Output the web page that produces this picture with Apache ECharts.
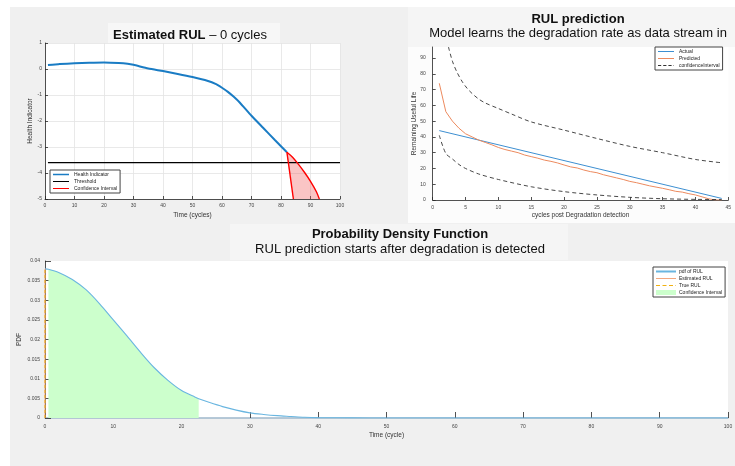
<!DOCTYPE html>
<html>
<head>
<meta charset="utf-8">
<script src="https://cdn.jsdelivr.net/npm/echarts@6/dist/echarts.min.js"></script>
<style>
  body { margin: 0; background: #fff; }
  #page { position: relative; width: 735px; height: 466px; overflow: hidden; background: #fff; }
  .bg, .chart { position: absolute; }
</style>
</head>
<body>
<div id="page">
  <div class="bg" style="left:10px;top:7px;width:725px;height:459px;background:#f0f0f0"></div>
  <div class="bg" style="left:108px;top:23px;width:172px;height:22px;background:#f7f7f7"></div>
  <div class="bg" style="left:408px;top:7px;width:327px;height:40px;background:#f5f5f5"></div>
  <div class="bg" style="left:408px;top:47px;width:327px;height:176px;background:#fcfcfc"></div>
  <div class="bg" style="left:230px;top:224px;width:338px;height:36px;background:#f5f5f5"></div>
  <div id="c1" class="chart" style="left:10px;top:7px;width:360px;height:218px"></div>
  <div id="c2" class="chart" style="left:370px;top:0px;width:365px;height:225px"></div>
  <div id="c3" class="chart" style="left:10px;top:225px;width:725px;height:241px"></div>
</div>

<script>
var FONT = 'Liberation Sans, Arial, sans-serif';

// --- Estimated RUL (health indicator) ---
var hiTime  = [1, 5, 10, 15, 20, 25, 28, 30, 35, 40, 45, 50, 55, 58, 60, 62, 64, 66, 70, 74, 78, 82];
var hiValue = [0.15, 0.19, 0.22, 0.24, 0.25, 0.23, 0.2, 0.16, 0.02, -0.08, -0.19, -0.31, -0.45, -0.58, -0.72, -0.88, -1.07, -1.29, -1.8, -2.27, -2.74, -3.2];
var thresholdX = [1, 100];
var threshold = -3.6;
var ciLowX = [82, 84.2];
var ciLowY = [-3.2, -5];
var ciUpX = [82, 84, 86, 88, 90, 92, 93];
var ciUpY = [-3.2, -3.4, -3.68, -3.98, -4.32, -4.72, -5];

// --- RUL prediction ---
var actualX = [1, 44];
var actualY = [44, 1];
var predX = [1, 2, 3, 4, 5, 6, 7, 8, 9, 10, 11, 12, 13, 14, 15, 16, 17, 18, 19, 20, 21, 22,
             23, 24, 25, 26, 27, 28, 29, 30, 31, 32, 33, 34, 35, 36, 37, 38, 39, 40, 41, 42, 43, 44];
var predY = [74, 56, 50, 45.5, 42, 40, 38, 36.5, 35, 33.3, 32, 31, 30, 28.5, 27.5, 26.5, 25.3, 24.5, 23.5, 22.2, 21, 20.3,
             19, 18, 17.3, 16, 15, 14, 13, 11.8, 11, 10, 9, 8.2, 7.4, 6.5, 5.5, 5, 4, 3.2, 2, 0.8, 0, 0];
var upX = [2.4, 3, 3.7, 4.5, 5.2, 6, 7, 8, 10, 12, 15, 20, 25, 30, 35, 40, 44];
var upY = [97, 88, 81, 75, 71, 67.5, 64, 61.5, 58, 54.5, 49.5, 44.3, 39, 34, 30, 25.7, 23.6];
var lowX = [1, 2, 3, 4, 5, 7, 10, 15, 20, 25, 30, 35, 40, 44];
var lowY = [41, 29.5, 26, 22.5, 20, 16.5, 13, 8.4, 5.3, 3.2, 1.7, 0.8, 0.4, 0.3];

// --- Probability density function ---
var pdfX = [0, 0.5, 2, 4, 6, 8, 10, 12, 14, 16, 18, 20, 22, 22.5, 24, 26, 28, 30, 32, 34, 36, 38, 40, 45, 50, 60, 70, 80, 90, 100];
var pdfY = [0.038, 0.0379, 0.0371, 0.0353, 0.0327, 0.0291, 0.025, 0.0209, 0.0167, 0.0128, 0.0096, 0.007, 0.0053, 0.0049,
            0.004, 0.0029, 0.002, 0.0013, 0.0009, 0.0006, 0.0004, 0.0002, 0.0001, 0.00003, 0, 0, 0, 0, 0, 0];
var estRUL = 0;
var trueRUL = 0;
var pdfTop = 0.038;
var ciRange = [0.5, 22.5];

// legend icons (5px tall box, line drawn in the middle)
var ICON_LINE = 'path://M0,0h0.01v0.01h-0.01zM0,1.9h20v1.2h-20zM0,4.99h0.01v0.01h-0.01z';
var ICON_THICK = 'path://M0,0h0.01v0.01h-0.01zM0,1.5h20v2h-20zM0,4.99h0.01v0.01h-0.01z';
var ICON_DASH = 'path://M0,0h0.01v0.01h-0.01zM0,1.9h4v1.2h-4zM6.5,1.9h4v1.2h-4zM13,1.9h4v1.2h-4zM19.5,1.9h0.5v1.2h-0.5zM0,4.99h0.01v0.01h-0.01z';

function zip(xs, ys) {
  var out = [];
  for (var i = 0; i < xs.length; i++) out.push([xs[i], ys[i]]);
  return out;
}

function axis(opt) {
  var a = {
    type: 'value',
    axisLine: { show: true, onZero: false, lineStyle: { color: '#262626', width: 0.8 } },
    axisTick: { show: true, inside: true, length: 3, lineStyle: { color: '#262626', width: 0.8 } },
    axisLabel: { fontSize: 5, color: '#444', fontFamily: FONT },
    splitLine: { show: false },
    nameLocation: 'middle',
    nameMoveOverlap: false,
    nameTextStyle: { fontSize: 6.5, color: '#333', fontFamily: FONT }
  };
  for (var k in opt) a[k] = opt[k];
  return a;
}

function legendBox(opt) {
  var l = {
    orient: 'vertical',
    backgroundColor: '#fff',
    borderColor: '#444',
    borderWidth: 1,
    borderRadius: 0,
    padding: [2, 3, 2, 3],
    itemGap: 2,
    itemWidth: 20,
    itemHeight: 5,
    itemStyle: { borderWidth: 0 },
    textStyle: { fontSize: 5, color: '#222', fontFamily: FONT, padding: [0, 0, 0, -2] },
    selectedMode: false
  };
  for (var k in opt) l[k] = opt[k];
  return l;
}

function grid(opt) {
  var g = { show: true, backgroundColor: '#fff', borderWidth: 0, containLabel: false, outerBoundsMode: 'none' };
  for (var k in opt) g[k] = opt[k];
  return g;
}

var grey = '#e3e3e3';

// chart 1
var c1 = echarts.init(document.getElementById('c1'));
c1.setOption({
  animation: false,
  title: {
    text: '{b|Estimated RUL} – 0 cycles',
    left: 'center', top: 22, padding: 0,
    textStyle: { fontSize: 13, fontWeight: 'normal', color: '#111', fontFamily: FONT,
      rich: { b: { fontSize: 13, fontWeight: 'bold', color: '#111', fontFamily: FONT } } }
  },
  grid: grid({ left: 35, top: 36, width: 295, height: 156 }),
  legend: legendBox({ left: 40, top: 163, itemHeight: 4,
    data: [{ name: 'Health Indicator', icon: ICON_THICK }, { name: 'Threshold', icon: ICON_LINE },
           { name: 'Confidence Interval', icon: ICON_LINE }] }),
  xAxis: axis({ min: 0, max: 100, interval: 10, name: 'Time (cycles)', nameGap: 13,
    axisLabel: { fontSize: 5, color: '#444', margin: 4, fontFamily: FONT },
    splitLine: { show: true, lineStyle: { color: grey, width: 0.8 } } }),
  yAxis: axis({ min: -5, max: 1, interval: 1, name: 'Health Indicator', nameGap: 11,
    axisLabel: { fontSize: 5, color: '#444', margin: 3, fontFamily: FONT },
    splitLine: { show: true, lineStyle: { color: grey, width: 0.8 } } }),
  series: [
    { type: 'custom', name: 'ciArea', silent: true, z: 1, data: [[ciLowX[0], ciLowY[0]]],
      renderItem: function (params, api) {
        var pts = [];
        for (var i = 0; i < ciLowX.length; i++) pts.push(api.coord([ciLowX[i], ciLowY[i]]));
        for (var j = ciUpX.length - 1; j >= 0; j--) pts.push(api.coord([ciUpX[j], ciUpY[j]]));
        return { type: 'polygon', shape: { points: pts }, style: { fill: 'rgba(240,90,90,0.35)' } };
      } },
    { type: 'line', name: 'Health Indicator', data: zip(hiTime, hiValue), symbol: 'none', smooth: 0.2,
      color: '#1a7cc4', lineStyle: { width: 2, color: '#1a7cc4' }, z: 3 },
    { type: 'line', name: 'Threshold', data: zip(thresholdX, [threshold, threshold]), symbol: 'none',
      color: '#000', lineStyle: { width: 1.4, color: '#000' }, z: 3 },
    { type: 'line', name: 'Confidence Interval', data: zip(ciLowX, ciLowY), symbol: 'none',
      color: '#ff0000', lineStyle: { width: 1.4, color: '#ff0000' }, z: 3 },
    { type: 'line', name: 'Confidence Interval', data: zip(ciUpX, ciUpY), symbol: 'none', smooth: 0.3,
      color: '#ff0000', lineStyle: { width: 1.4, color: '#ff0000' }, z: 3 }
  ]
});

// chart 2
var c2 = echarts.init(document.getElementById('c2'));
c2.setOption({
  animation: false,
  title: {
    text: 'RUL prediction',
    subtext: 'Model learns the degradation rate as data stream in',
    left: 208, top: 13, padding: 0, itemGap: 1, textAlign: 'center',
    textStyle: { fontSize: 13, fontWeight: 'bold', color: '#111', fontFamily: FONT },
    subtextStyle: { fontSize: 13, color: '#111', fontFamily: FONT }
  },
  grid: grid({ left: 62.7, top: 47, width: 295.6, height: 153 }),
  legend: legendBox({ left: 285, top: 47, itemHeight: 4,
    data: [{ name: 'Actual', icon: ICON_LINE }, { name: 'Predicted', icon: ICON_LINE },
           { name: 'confidenceInterval', icon: ICON_DASH }] }),
  xAxis: axis({ min: 0, max: 45, interval: 5, name: 'cycles post Degradation detection', nameGap: 12,
    axisLabel: { fontSize: 5, color: '#444', margin: 5, fontFamily: FONT } }),
  yAxis: axis({ min: 0, max: 97, interval: 10, name: 'Remaining Useful Life', nameGap: 15,
    axisLabel: { fontSize: 5, color: '#444', margin: 7, fontFamily: FONT, showMaxLabel: false,
      formatter: function (v) { return v % 10 === 0 ? v : ''; } } }),
  series: [
    { type: 'line', name: 'Actual', data: zip(actualX, actualY), symbol: 'none',
      color: '#3d8fd1', lineStyle: { width: 1, color: '#3d8fd1' } },
    { type: 'line', name: 'Predicted', data: zip(predX, predY), symbol: 'none',
      color: '#ec8a5e', lineStyle: { width: 1, color: '#ec8a5e' } },
    { type: 'line', name: 'confidenceInterval', data: zip(upX, upY), symbol: 'none', smooth: 0.3,
      color: '#333', lineStyle: { width: 0.9, color: '#333', type: [4, 3] } },
    { type: 'line', name: 'confidenceInterval', data: zip(lowX, lowY), symbol: 'none', smooth: 0.3,
      color: '#333', lineStyle: { width: 0.9, color: '#333', type: [4, 3] } }
  ]
});

// chart 3
var ciPts = [];
for (var i = 0; i < pdfX.length; i++) {
  if (pdfX[i] >= ciRange[0] && pdfX[i] <= ciRange[1]) ciPts.push([pdfX[i], pdfY[i]]);
}
var c3 = echarts.init(document.getElementById('c3'));
c3.setOption({
  animation: false,
  title: {
    text: 'Probability Density Function',
    subtext: 'RUL prediction starts after degradation is detected',
    left: 390, top: 3, padding: 0, itemGap: 2, textAlign: 'center',
    textStyle: { fontSize: 13, fontWeight: 'bold', color: '#111', fontFamily: FONT },
    subtextStyle: { fontSize: 13, color: '#111', fontFamily: FONT }
  },
  grid: grid({ left: 35, top: 36, width: 683, height: 157 }),
  legend: legendBox({ left: 643, top: 42,
    data: [{ name: 'pdf of RUL', icon: ICON_THICK }, { name: 'Estimated RUL', icon: ICON_LINE },
           { name: 'True RUL', icon: ICON_DASH }, { name: 'Confidence Interval', icon: 'rect' }] }),
  xAxis: axis({ min: 0, max: 100, interval: 10, name: 'Time (cycle)', nameGap: 14,
    axisLine: { show: true, onZero: false, lineStyle: { color: '#9fb8cc', width: 1.5 } },
    axisTick: { show: true, inside: true, length: 6, lineStyle: { color: '#262626', width: 0.8 } },
    axisLabel: { fontSize: 5, color: '#444', margin: 6, fontFamily: FONT } }),
  yAxis: axis({ min: 0, max: 0.04, interval: 0.005, name: 'PDF', nameGap: 22,
    axisTick: { show: true, inside: true, length: 6, lineStyle: { color: '#262626', width: 0.8 } },
    axisLabel: { fontSize: 5, color: '#444', margin: 5, fontFamily: FONT } }),
  series: [
    { type: 'line', name: 'Confidence Interval', data: ciPts, symbol: 'none', smooth: 0.3,
      color: '#ccffcc', lineStyle: { width: 0 }, areaStyle: { color: '#ccffcc', opacity: 1 }, z: 1 },
    { type: 'line', name: 'pdf of RUL', data: zip(pdfX, pdfY), symbol: 'none', smooth: 0.3,
      color: '#6ab6e0', lineStyle: { width: 1.1, color: '#6ab6e0' }, z: 3 },
    { type: 'line', name: 'Estimated RUL', data: [[estRUL, 0], [estRUL, pdfTop]], symbol: 'none',
      color: '#f2a77f', lineStyle: { width: 1, color: '#f2a77f' }, z: 4 },
    { type: 'line', name: 'True RUL', data: [[trueRUL, 0], [trueRUL, pdfTop]], symbol: 'none',
      color: '#f1b111', lineStyle: { width: 1, color: '#f1b111', type: [3, 2] }, z: 4 }
  ]
});
</script>
</body>
</html>
